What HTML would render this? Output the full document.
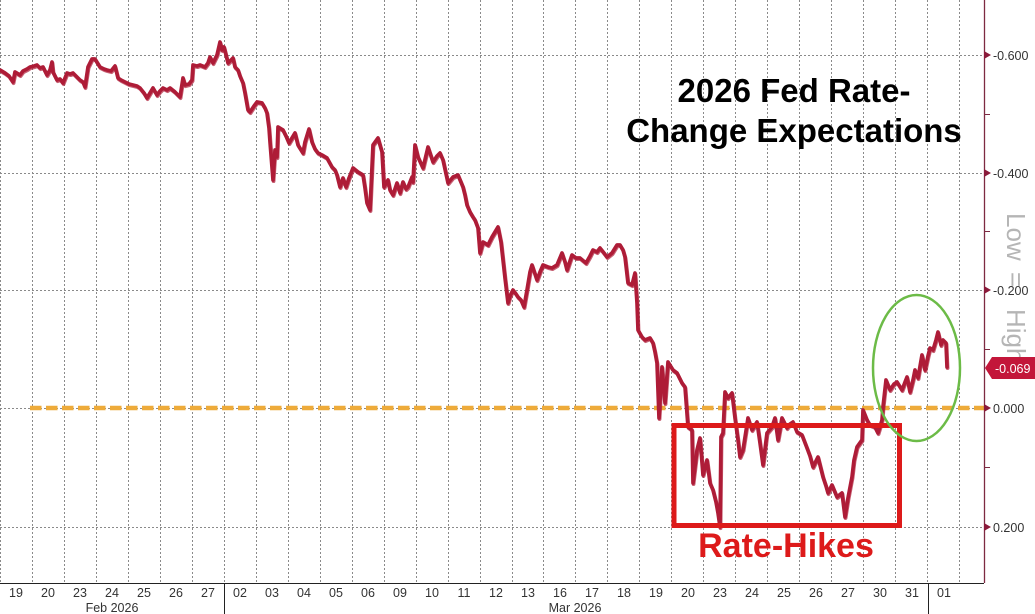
<!DOCTYPE html>
<html><head><meta charset="utf-8"><style>
html,body{margin:0;padding:0;background:#fff;}
svg{display:block;}
</style></head><body>
<svg width="1035" height="614" viewBox="0 0 1035 614" xmlns="http://www.w3.org/2000/svg" font-family="'Liberation Sans', sans-serif">
<rect width="1035" height="614" fill="#fff"/>
<!-- vertical gridlines -->
<g stroke="#8a8a8a" stroke-width="1" stroke-dasharray="2,2">
<line x1="0.5" y1="0" x2="0.5" y2="583"/>
<line x1="32.5" y1="0" x2="32.5" y2="583"/>
<line x1="64.5" y1="0" x2="64.5" y2="583"/>
<line x1="96.5" y1="0" x2="96.5" y2="583"/>
<line x1="128.5" y1="0" x2="128.5" y2="583"/>
<line x1="160.5" y1="0" x2="160.5" y2="583"/>
<line x1="192.5" y1="0" x2="192.5" y2="583"/>
<line x1="224.5" y1="0" x2="224.5" y2="583"/>
<line x1="256.5" y1="0" x2="256.5" y2="583"/>
<line x1="288.5" y1="0" x2="288.5" y2="583"/>
<line x1="320.5" y1="0" x2="320.5" y2="583"/>
<line x1="352.5" y1="0" x2="352.5" y2="583"/>
<line x1="384.5" y1="0" x2="384.5" y2="583"/>
<line x1="416.5" y1="0" x2="416.5" y2="583"/>
<line x1="448.5" y1="0" x2="448.5" y2="583"/>
<line x1="480.5" y1="0" x2="480.5" y2="583"/>
<line x1="512.5" y1="0" x2="512.5" y2="583"/>
<line x1="543.5" y1="0" x2="543.5" y2="583"/>
<line x1="575.5" y1="0" x2="575.5" y2="583"/>
<line x1="607.5" y1="0" x2="607.5" y2="583"/>
<line x1="639.5" y1="0" x2="639.5" y2="583"/>
<line x1="671.5" y1="0" x2="671.5" y2="583"/>
<line x1="703.5" y1="0" x2="703.5" y2="583"/>
<line x1="735.5" y1="0" x2="735.5" y2="583"/>
<line x1="767.5" y1="0" x2="767.5" y2="583"/>
<line x1="799.5" y1="0" x2="799.5" y2="583"/>
<line x1="831.5" y1="0" x2="831.5" y2="583"/>
<line x1="863.5" y1="0" x2="863.5" y2="583"/>
<line x1="895.5" y1="0" x2="895.5" y2="583"/>
<line x1="927.5" y1="0" x2="927.5" y2="583"/>
<line x1="959.5" y1="0" x2="959.5" y2="583"/>
</g>
<!-- horizontal gridlines -->
<g stroke="#8a8a8a" stroke-width="1" stroke-dasharray="2,2">
<line x1="0" y1="55.5" x2="984" y2="55.5"/>
<line x1="0" y1="173.5" x2="984" y2="173.5"/>
<line x1="0" y1="290.5" x2="984" y2="290.5"/>
<line x1="0" y1="408.5" x2="984" y2="408.5"/>
<line x1="0" y1="527.5" x2="984" y2="527.5"/>
</g>
<!-- orange zero line -->
<line x1="30" y1="408" x2="984" y2="408" stroke="#eeab3a" stroke-width="4.5" stroke-dasharray="11.5,4.5"/>

<!-- series -->
<g fill="none" stroke="#ae1c38" stroke-linejoin="round" stroke-linecap="round">
<polyline id="s" stroke-width="3.7" points="0,70 5,73 9,76 13,82 15,72 20,75 23,71 27,69 30,67 34,66 37,65 40,68 43,67 47,75 50,70 52,62 53,72 57,80 60,79 63,83 67,73 70,74 73,73 77,77 80,80 83,82 85,87 88,67 92,59 95,59 100,67 104,69 107,70 111,71 115,66 118,78 121,80 125,82 129,84 133,85 137,86 140,88 144,93 147,98 150,93 153,88 157,95 160,91 163,88 167,90 170,88 175,92 180,97 183,78 185,85 189,84 192,80 193,65 197,66 200,65 205,67 208,63 210,57 213,63 217,55 220,42 222,50 224,47 228,63 233,58 235,67 238,70 240,76 243,83 245,93 248,110 250,112 254,106 257,102 262,103 265,108 267,113 269,128 270,142 273,180 275,150 277,157 278,127 283,130 286,136 289,143 292,138 295,133 298,145 303,153 305,142 309,129 312,142 315,149 318,153 322,155 327,158 332,167 335,170 337,175 340,187 343,178 346,187 349,178 353,168 358,172 363,175 365,188 367,203 370,210 373,145 378,138 382,152 384,187 388,180 390,190 393,195 397,183 400,193 403,182 406,189 408,187 412,177 413,182 415,145 418,157 423,168 428,147 433,162 437,156 440,153 443,160 448,183 453,177 458,175 463,187 465,195 467,205 470,212 473,217 475,220 478,228 480,253 483,242 488,245 492,237 495,232 498,227 501,242 503,260 505,278 508,303 510,296 513,290 516,294 518,297 521,300 524,307 527,290 530,272 532,265 537,280 540,272 543,265 548,267 552,268 557,265 562,253 565,262 567,270 572,255 576,258 580,258 586,263 590,256 593,250 597,252 600,248 604,253 607,257 612,253 617,245 620,245 623,250 625,257 628,283 632,285 635,273 637,303 638,330 642,337 645,340 650,338 653,343 655,352 657,363 659,418 662,367 665,403 668,362 673,370 677,373 682,383 685,387 688,427 692,430 693,483 697,450 700,438 703,475 707,460 710,483 713,490 716,502 718,513 720,527 721,437 723,433 725,392 728,398 732,393 735,418 738,440 740,457 743,450 748,418 752,430 757,422 760,443 763,465 767,433 772,427 775,418 778,440 782,418 787,428 790,424 793,422 797,432 802,435 807,448 810,456 813,467 818,457 823,477 826,486 828,493 832,485 837,497 842,493 845,517 848,498 852,477 854,460 857,447 862,440 863,410 867,420 870,425 875,427 878,433 882,420 883,407 886,380 890,390 894,384 897,382 902,390 907,377 910,392 913,380 915,370 918,378 922,355 925,370 928,356 930,348 933,350 936,340 938,332 941,345 943,340 946,343 947,367"/>
<use href="#s" transform="translate(0.6,1.2)" stroke-width="2.5" opacity="0.7"/>
</g>

<!-- red rectangle -->
<rect x="674" y="425.5" width="225.5" height="100" fill="none" stroke="#dd1a1a" stroke-width="5"/>
<!-- green ellipse -->
<ellipse cx="916.5" cy="368" rx="43.5" ry="73" fill="none" stroke="#6cbb47" stroke-width="2.5"/>

<!-- right axis -->
<line x1="984.5" y1="0" x2="984.5" y2="583" stroke="#7d2a42" stroke-width="1.3"/>
<g fill="#8a1a3a">
<polygon points="984,51 991,55 984,59"/>
<polygon points="984,169 991,173 984,177"/>
<polygon points="984,286 991,290 984,294"/>
<polygon points="984,404 991,408 984,412"/>
<polygon points="984,523 991,527 984,531"/>
</g>
<g stroke="#7d2a42" stroke-width="1">
<line x1="984" y1="114.5" x2="990" y2="114.5"/>
<line x1="984" y1="231.5" x2="990" y2="231.5"/>
<line x1="984" y1="349.5" x2="990" y2="349.5"/>
<line x1="984" y1="467.5" x2="990" y2="467.5"/>
</g>
<g font-size="12.5" fill="#333">
<text x="993" y="60">-0.600</text>
<text x="993" y="178">-0.400</text>
<text x="993" y="295">-0.200</text>
<text x="993" y="413">0.000</text>
<text x="993" y="532">0.200</text>
</g>

<!-- Low = High -->
<g font-size="26" fill="#b5b5b5">
<text transform="translate(1007,213) rotate(90)">Low</text>
<text transform="translate(1007,272) rotate(90)">=</text>
<text transform="translate(1007,309) rotate(90)">High</text>
</g>

<!-- last value label -->
<polygon points="985,368 992,357 1035,357 1035,379 992,379" fill="#c3163a"/>
<text x="995" y="373" font-size="12.5" fill="#fff">-0.069</text>

<!-- x axis -->
<line x1="0" y1="583.5" x2="984" y2="583.5" stroke="#222" stroke-width="1"/>
<line x1="224.5" y1="583" x2="224.5" y2="614" stroke="#222" stroke-width="1"/>
<line x1="928.5" y1="583" x2="928.5" y2="614" stroke="#222" stroke-width="1"/>
<g font-size="12.5" fill="#333" text-anchor="middle">
<text x="16" y="597">19</text>
<text x="48" y="597">20</text>
<text x="80" y="597">23</text>
<text x="112" y="597">24</text>
<text x="144" y="597">25</text>
<text x="176" y="597">26</text>
<text x="208" y="597">27</text>
<text x="240" y="597">02</text>
<text x="272" y="597">03</text>
<text x="304" y="597">04</text>
<text x="336" y="597">05</text>
<text x="368" y="597">06</text>
<text x="400" y="597">09</text>
<text x="432" y="597">10</text>
<text x="464" y="597">11</text>
<text x="496" y="597">12</text>
<text x="528" y="597">13</text>
<text x="560" y="597">16</text>
<text x="592" y="597">17</text>
<text x="624" y="597">18</text>
<text x="656" y="597">19</text>
<text x="688" y="597">20</text>
<text x="720" y="597">23</text>
<text x="752" y="597">24</text>
<text x="784" y="597">25</text>
<text x="816" y="597">26</text>
<text x="848" y="597">27</text>
<text x="880" y="597">30</text>
<text x="912" y="597">31</text>
<text x="944" y="597">01</text>
<text x="112" y="612">Feb 2026</text>
<text x="575" y="612">Mar 2026</text>
</g>

<!-- title -->
<g font-size="33" font-weight="bold" fill="#000" text-anchor="middle">
<text x="794" y="102">2026 Fed Rate-</text>
<text x="794" y="142">Change Expectations</text>
</g>
<!-- Rate-Hikes -->
<text x="786" y="557" font-size="34" font-weight="bold" fill="#dd1a1a" text-anchor="middle">Rate-Hikes</text>
</svg>
</body></html>
